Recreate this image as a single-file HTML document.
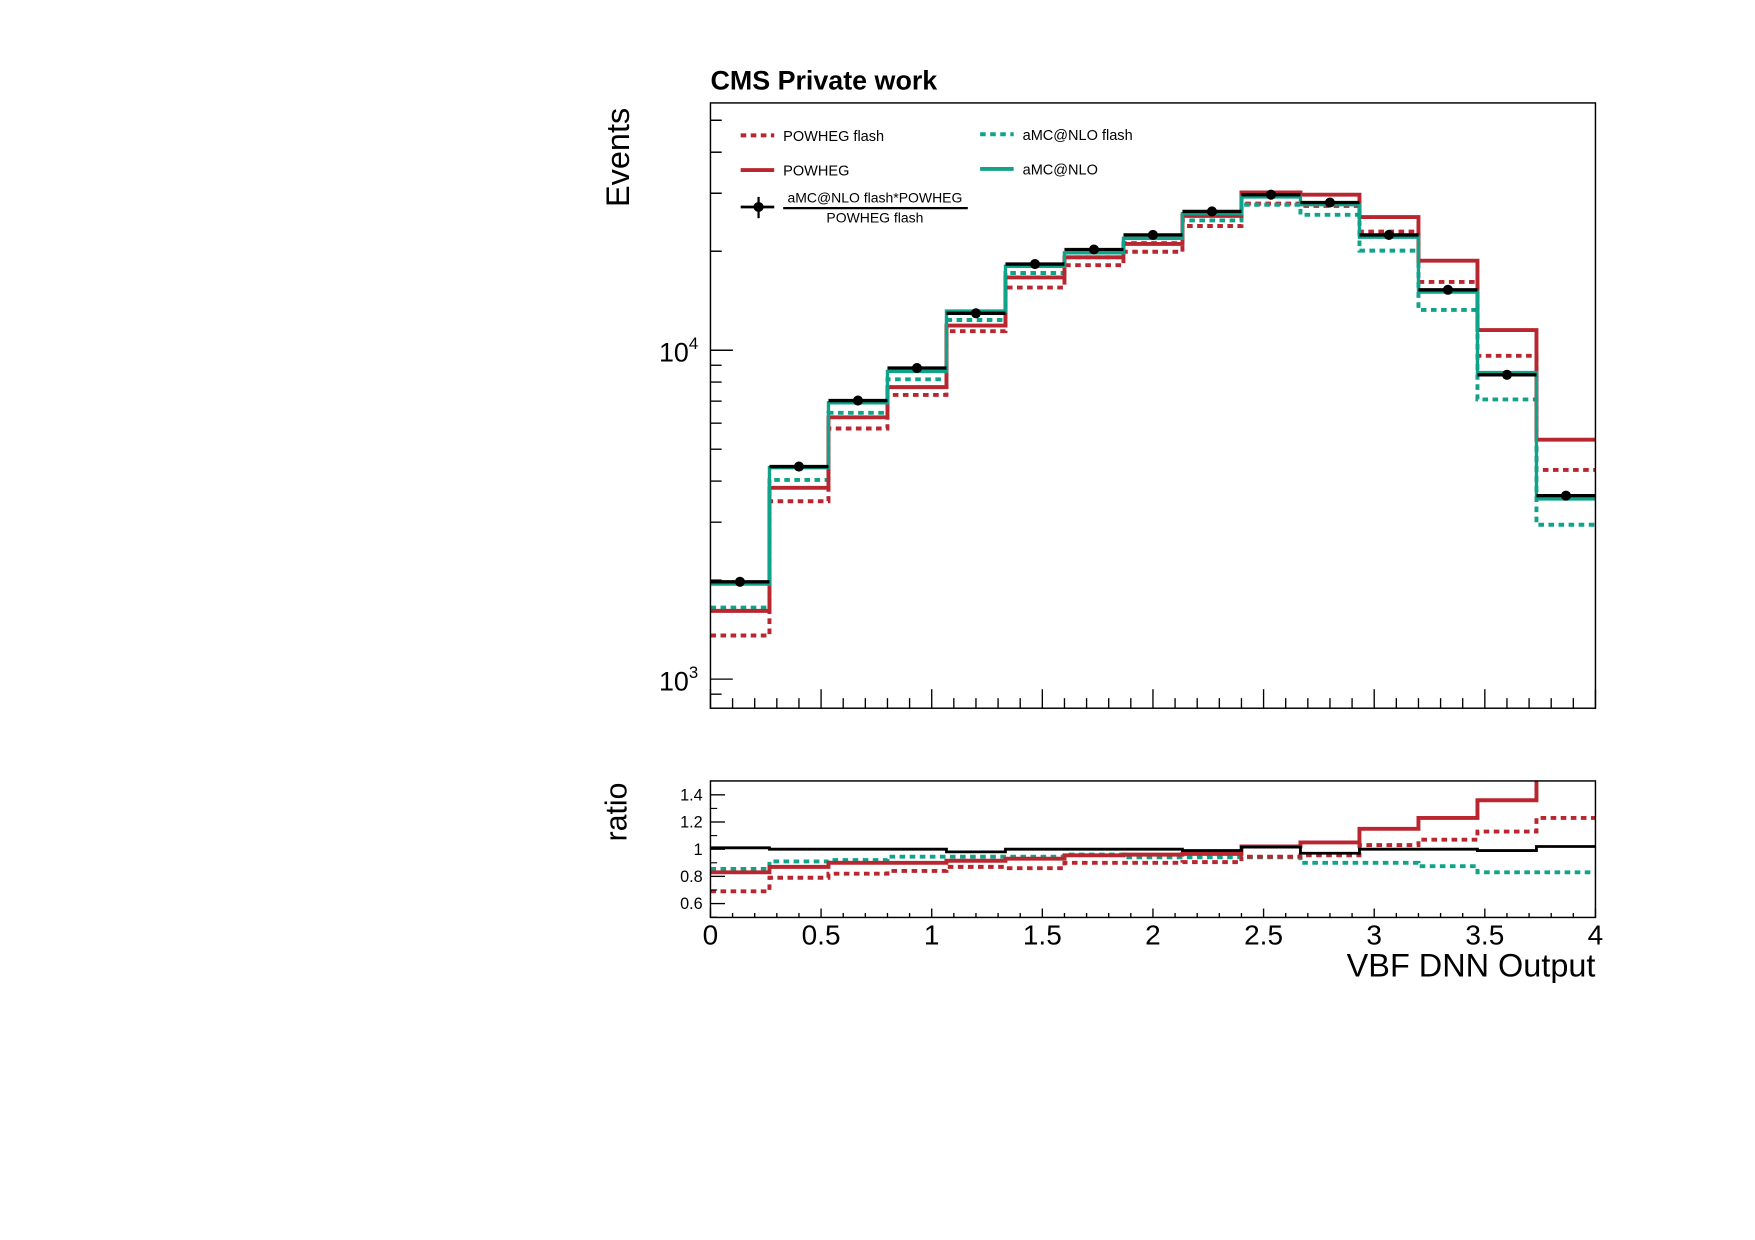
<!DOCTYPE html>
<html><head><meta charset="utf-8"><style>
html,body{margin:0;padding:0;background:#fff;}
svg{display:block;font-family:"Liberation Sans",sans-serif;}
</style></head><body>
<svg id="s" width="1755" height="1240" viewBox="0 0 1568.6 1108.3" xmlns="http://www.w3.org/2000/svg">
<rect width="1570" height="1110" fill="#fff"/>
<text x="635" y="80" font-size="24" font-weight="bold">CMS Private work</text>
<text transform="translate(562,185) rotate(-90)" font-size="29">Events</text>
<text transform="translate(560,752) rotate(-90)" font-size="27">ratio</text>
<g id="g"></g>
<text x="1426" y="873" font-size="29" text-anchor="end">VBF DNN Output</text>
</svg>
<script>
const g=document.getElementById('g');let h='';
const L=635,R=1426,T=92,B=633,RT=698,RB=820,bw=(R-L)/15;
const RED='#b8262f',TEAL='#11a38a';
const yr=r=>759-121.5*(r-1);
function step(ys,col,dash,w){let d='';for(let i=0;i<15;i++){let x0=L+i*bw,x1=x0+bw;d+=(i==0?'M'+x0+','+ys[i]:'L'+x0+','+ys[i])+'L'+x1+','+ys[i];}
h+=`<path d="${d}" fill="none" stroke="${col}" stroke-width="${w}" ${dash?'stroke-dasharray="5,4"':''}/>`;}
const pts=[520,417,358,329,280,236,223,210,189,174,181,210,259,335,443];
const pw=[546,436,373,346,291,248,230,218,193,172,174,194,233,295,393];
const pwf=[568,448,383,353,296,257,237,225,202,182,184,207,252,318,420];
const am=[522,418,360,332,278,238,226,213,191,176,183,212,261,333,446];
const amf=[543,429,369,339,286,244,230,217,197,183,192,224,277,357,469];
h+=`<clipPath id="c1"><rect x="${L}" y="${T}" width="${R-L}" height="${B-T}"/></clipPath><g clip-path="url(#c1)">`;
step(pwf,RED,1,3.5);step(amf,TEAL,1,3.5);step(pw,RED,0,3.5);step(am,TEAL,0,3);
for(let i=0;i<15;i++){let x0=L+i*bw;h+=`<line x1="${x0}" x2="${x0+bw}" y1="${pts[i]}" y2="${pts[i]}" stroke="#000" stroke-width="3"/><circle cx="${x0+bw/2}" cy="${pts[i]}" r="4.5"/>`;}
h+='</g>';
h+=`<rect x="${L}" y="${T}" width="${R-L}" height="${B-T}" fill="none" stroke="#000" stroke-width="1.3"/>`;
const yl=v=>313-294*Math.log10(v/1e4);
for(let e=2;e<=4;e++)for(let m=1;m<10;m++){let v=m*Math.pow(10,e);let y=yl(v);if(y<T||y>B)continue;let len=m==1?20:10;h+=`<line x1="${L}" x2="${L+len}" y1="${y}" y2="${y}" stroke="#000" stroke-width="1.2"/>`;}
for(let m=1;m<=6;m++){let y=yl(m*1e4);if(y>=T)h+=`<line x1="${L}" x2="${L+(m==1?20:10)}" y1="${y}" y2="${y}" stroke="#000" stroke-width="1.2"/>`;}
h+=`<text x="624" y="323" font-size="24" text-anchor="end">10<tspan font-size="15" dy="-11">4</tspan></text>`;
h+=`<text x="624" y="617" font-size="24" text-anchor="end">10<tspan font-size="15" dy="-11">3</tspan></text>`;
const xs=v=>L+(R-L)*v/4;
for(let k=0;k<=40;k++){let x=xs(k/10);let maj=k%5==0;h+=`<line x1="${x}" x2="${x}" y1="${B}" y2="${B-(maj?17:9)}" stroke="#000" stroke-width="1.2"/>`;h+=`<line x1="${x}" x2="${x}" y1="${RB}" y2="${RB-(maj?8:4)}" stroke="#000" stroke-width="1.2"/>`;}
function lg(x,y,col,dash,txt){h+=`<line x1="${x}" x2="${x+30}" y1="${y}" y2="${y}" stroke="${col}" stroke-width="3.5" ${dash?'stroke-dasharray="5,4"':''}/><text x="${x+38}" y="${y+5}" font-size="13">${txt}</text>`;}
lg(662,121,RED,1,'POWHEG flash');lg(662,152,RED,0,'POWHEG');lg(876,120,TEAL,1,'aMC@NLO flash');lg(876,151,TEAL,0,'aMC@NLO');
h+=`<line x1="662" x2="692" y1="185" y2="185" stroke="#000" stroke-width="2.5"/><line x1="678" x2="678" y1="176" y2="195" stroke="#000" stroke-width="2"/><circle cx="678" cy="185" r="4.5"/>`;
h+=`<text x="782" y="181" font-size="12.5" text-anchor="middle">aMC@NLO flash*POWHEG</text><line x1="700" x2="865" y1="186" y2="186" stroke="#000" stroke-width="2"/><text x="782" y="199" font-size="12.5" text-anchor="middle">POWHEG flash</text>`;
h+=`<clipPath id="c2"><rect x="${L}" y="${RT}" width="${R-L}" height="${RB-RT}"/></clipPath><g clip-path="url(#c2)">`;
const rb=[1.01,1.0,1.0,1.0,0.98,1.0,1.0,1.0,0.99,1.015,0.97,1.0,1.0,0.99,1.02];
const rp=[0.83,0.87,0.90,0.90,0.915,0.93,0.955,0.96,0.965,1.02,1.05,1.15,1.23,1.36,1.8];
const rpf=[0.69,0.79,0.82,0.84,0.87,0.86,0.90,0.90,0.905,0.945,0.955,1.03,1.07,1.13,1.23];
const raf=[0.855,0.91,0.92,0.945,0.945,0.945,0.96,0.94,0.94,0.94,0.90,0.90,0.875,0.83,0.83];
step(raf.map(yr),TEAL,1,3.5);step(rpf.map(yr),RED,1,3.5);step(rp.map(yr),RED,0,3.5);step(rb.map(yr),'#000',0,2.5);
h+='</g>';
h+=`<rect x="${L}" y="${RT}" width="${R-L}" height="${RB-RT}" fill="none" stroke="#000" stroke-width="1.3"/>`;
[0.6,0.8,1,1.2,1.4].forEach(r=>{let y=yr(r);h+=`<line x1="${L}" x2="${L+13}" y1="${y}" y2="${y}" stroke="#000" stroke-width="1.2"/><text x="628" y="${y+5}" font-size="14.5" text-anchor="end">${r}</text>`;});
[0.5,0.7,0.9,1.1,1.3].forEach(r=>{let y=yr(r);h+=`<line x1="${L}" x2="${L+6}" y1="${y}" y2="${y}" stroke="#000" stroke-width="1"/>`;});
['0','0.5','1','1.5','2','2.5','3','3.5','4'].forEach((t,i)=>{h+=`<text x="${xs(i/2)}" y="844" font-size="25" text-anchor="middle">${t}</text>`;});
g.innerHTML=h;
</script>
</body></html>
